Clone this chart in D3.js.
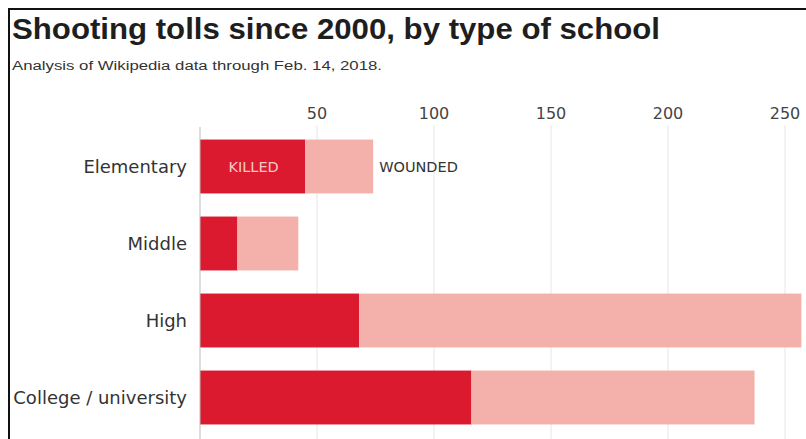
<!DOCTYPE html>
<html>
<head>
<meta charset="utf-8">
<script src="https://d3js.org/d3.v7.min.js"></script>
<style>
  body { margin: 0; background: #fff; font-family: "DejaVu Sans", sans-serif; }
  .title { font-family: "Liberation Sans Narrow", "Liberation Sans", Arial, sans-serif; font-size: 29px; font-weight: bold; fill: #1e1e1e; }
  .subtitle { font-family: "Liberation Sans", Arial, sans-serif; font-size: 12px; fill: #333; }
  .catLabel { font-size: 18px; fill: #333; text-anchor: end; }
  .tickLabel { font-size: 16px; fill: #444; text-anchor: middle; }
</style>
</head>
<body>
<div id="chart"></div>
<script>
// data
var categories = ["Elementary", "Middle", "High", "College / university"];
var killed  = [45, 16, 68, 116];
var wounded = [29, 26, 189, 121];
var ticks = [50, 100, 150, 200, 250];

var width = 806, height = 439;

var svg = d3.select("#chart")
  .append("svg")
  .attr("width", width)
  .attr("height", height);

// frame: top and left rules
svg.append("path")
  .attr("d", "M9,439 V9 H806")
  .attr("fill", "none")
  .attr("stroke", "#111")
  .attr("stroke-width", 2);

svg.append("text")
  .attr("class", "title")
  .attr("x", 12)
  .attr("y", 39)
  .attr("textLength", 648)
  .attr("lengthAdjust", "spacingAndGlyphs")
  .text("Shooting tolls since 2000, by type of school");

svg.append("text")
  .attr("class", "subtitle")
  .attr("x", 12)
  .attr("y", 70)
  .attr("textLength", 370)
  .attr("lengthAdjust", "spacingAndGlyphs")
  .text("Analysis of Wikipedia data through Feb. 14, 2018.");

var xScale = d3.scaleLinear()
  .domain([0, 250])
  .range([200, 785]);

var yScale = d3.scaleBand()
  .domain(categories)
  .range([128, 436])
  .paddingInner(0.3)
  .paddingOuter(0.15);

var rows = categories.map(function(c, i) {
  return { cat: c, killed: killed[i], wounded: wounded[i] };
});

// gridlines + tick labels
svg.selectAll(".grid")
  .data(ticks)
  .enter()
  .append("line")
  .attr("class", "grid")
  .attr("x1", function(d) { return xScale(d); })
  .attr("x2", function(d) { return xScale(d); })
  .attr("y1", 125)
  .attr("y2", height)
  .attr("stroke", "#e6e6e6")
  .attr("stroke-width", 1);

svg.selectAll(".tickLabel")
  .data(ticks)
  .enter()
  .append("text")
  .attr("class", "tickLabel")
  .attr("x", function(d) { return xScale(d); })
  .attr("y", 119)
  .text(function(d) { return d; });

// bars
svg.selectAll(".killed")
  .data(rows)
  .enter()
  .append("rect")
  .attr("class", "killed")
  .attr("x", xScale(0))
  .attr("y", function(d) { return yScale(d.cat); })
  .attr("width", function(d) { return xScale(d.killed) - xScale(0); })
  .attr("height", yScale.bandwidth())
  .attr("fill", "#db1a2f");

svg.selectAll(".wounded")
  .data(rows)
  .enter()
  .append("rect")
  .attr("class", "wounded")
  .attr("x", function(d) { return xScale(d.killed); })
  .attr("y", function(d) { return yScale(d.cat); })
  .attr("width", function(d) { return xScale(d.killed + d.wounded) - xScale(d.killed); })
  .attr("height", yScale.bandwidth())
  .attr("fill", "#f4b1ab");

// zero line
svg.append("line")
  .attr("x1", xScale(0))
  .attr("x2", xScale(0))
  .attr("y1", 127)
  .attr("y2", height)
  .attr("stroke", "#bbb")
  .attr("stroke-width", 1);

// category labels
svg.selectAll(".catLabel")
  .data(rows)
  .enter()
  .append("text")
  .attr("class", "catLabel")
  .attr("x", 187)
  .attr("y", function(d) { return yScale(d.cat) + yScale.bandwidth() / 2; })
  .attr("dy", "0.35em")
  .text(function(d) { return d.cat; });

// in-chart legend on the first bar
var first = rows[0];
var midY = yScale(first.cat) + yScale.bandwidth() / 2;
svg.append("text")
  .attr("x", xScale(first.killed / 2) + 1)
  .attr("y", midY)
  .attr("dy", "0.35em")
  .attr("text-anchor", "middle")
  .attr("font-size", "14.5px")
  .attr("fill", "#f8c9c9")
  .text("KILLED");
svg.append("text")
  .attr("x", xScale(first.killed + first.wounded) + 6)
  .attr("y", midY)
  .attr("dy", "0.35em")
  .attr("font-size", "14.5px")
  .attr("fill", "#333")
  .text("WOUNDED");
</script>
</body>
</html>
